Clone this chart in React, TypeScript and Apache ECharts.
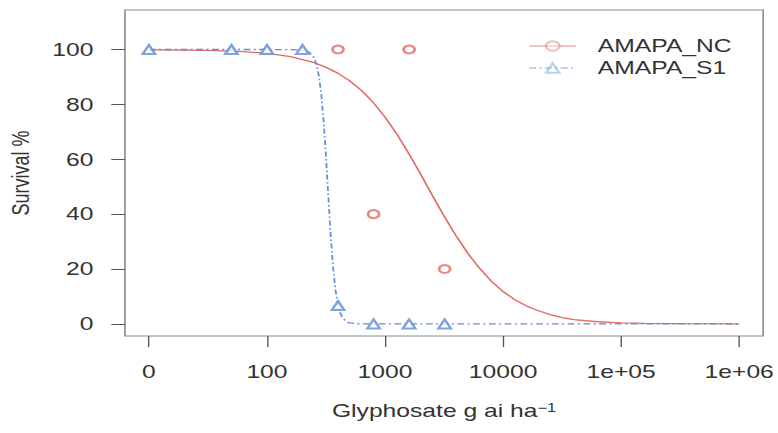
import React, { useEffect, useRef } from "react";
import * as echarts from "echarts";

// ---- data ----
// dose 0 is drawn on the broken-axis position (log10 dose = 1)
const xTickPositions = [1, 2, 3, 4, 5, 6];
const xTickLabels = ["0", "100", "1000", "10000", "1e+05", "1e+06"];
const yTicks = [0, 20, 40, 60, 80, 100];

const ncDoses = [400, 800, 1600, 3200];
const ncSurvival = [100, 40, 100, 20];

const s1Doses = [0, 50, 100, 200, 400, 800, 1600, 3200];
const s1Survival = [100, 100, 100, 100, 6.7, 0, 0, 0];

// fitted curves (x = log10 dose)
const ncCurveLogDose = [1, 1.5, 1.8, 2.0, 2.2, 2.4, 2.5, 2.6, 2.7, 2.8, 2.9, 3.0, 3.1, 3.2, 3.3, 3.4, 3.5, 3.6, 3.7, 3.8, 3.9, 4.0, 4.1, 4.2, 4.3, 4.4, 4.5, 4.6, 4.8, 5.0, 5.2, 5.5, 6.0];
const ncCurveSurvival = [99.9, 99.7, 99.2, 98.6, 97.4, 95.2, 93.5, 91.4, 88.6, 85.1, 80.7, 75.4, 69.2, 62.2, 54.7, 46.9, 39.3, 32.2, 25.8, 20.3, 15.6, 11.8, 8.8, 6.5, 4.8, 3.4, 2.3, 1.6, 0.8, 0.4, 0.2, 0.1, 0];

const s1CurveLogDose = [1, 2, 2.2, 2.3, 2.36, 2.4, 2.42, 2.44, 2.46, 2.48, 2.5, 2.52, 2.54, 2.56, 2.58, 2.6, 2.62, 2.64, 2.67, 2.7, 2.75, 2.8, 6.0];
const s1CurveSurvival = [100, 100, 99.95, 99.8, 99.0, 96.9, 94.5, 90.4, 83.8, 74.0, 61.0, 46.3, 32.1, 20.6, 12.5, 7.3, 4.1, 2.3, 0.96, 0.39, 0.09, 0, 0];

const S = 1.37; // horizontal stretch of the reference
const W = 778 / S;
const H = 433;

const RED = "#E26A66";
const BLUE = "#5E8FD8";
const FONT = "Liberation Sans";

const pos = (d: number) => (d === 0 ? 1 : Math.log10(d));

export default function App() {
  const ref = useRef<HTMLDivElement>(null);
  useEffect(() => {
    if (!ref.current) return;
    const chart = echarts.init(ref.current, undefined, { renderer: "svg" });
    chart.setOption({
      animation: false,
      backgroundColor: "#fff",
      textStyle: { fontFamily: FONT },
      grid: {
        left: 91.2,
        right: W - 763 / S,
        top: 10,
        bottom: H - 336,
        containLabel: false,
        outerBoundsMode: "none",
        show: true,
        borderColor: "#8c8c8c",
        borderWidth: 1.2,
      },
      legend: {
        orient: "vertical",
        left: 528 / S,
        top: 37,
        padding: 0,
        itemWidth: 34,
        itemHeight: 12,
        itemGap: 4,
        textStyle: { fontSize: 18, color: "#333", fontFamily: FONT, padding: [0, 0, 0, 11] },
        data: [
          { name: "AMAPA_NC", itemStyle: { opacity: 0.4 }, lineStyle: { opacity: 0.4 } },
          { name: "AMAPA_S1", itemStyle: { opacity: 0.4 }, lineStyle: { opacity: 0.4 } },
        ],
      },
      xAxis: {
        type: "value",
        min: 0.797,
        max: 6.203,
        axisLine: { show: false, onZero: false },
        splitLine: { show: false },
        axisTick: {
          show: true,
          length: 11,
          customValues: xTickPositions,
          lineStyle: { color: "#555", width: 1 },
        },
        axisLabel: {
          customValues: xTickPositions,
          margin: 27,
          fontSize: 18,
          color: "#333",
          fontFamily: FONT,
          formatter: (v: number) => {
            const i = xTickPositions.findIndex((p) => Math.abs(p - v) < 1e-6);
            return i >= 0 ? xTickLabels[i] : "";
          },
        },
        name: "Glyphosate g ai ha{sup|−1}",
        nameLocation: "middle",
        nameGap: 66,
        nameTextStyle: {
          fontSize: 18,
          color: "#333",
          fontFamily: FONT,
          rich: {
            sup: { fontSize: 12, color: "#333", fontFamily: FONT, verticalAlign: "top", lineHeight: 12 },
          },
        },
      },
      yAxis: {
        type: "value",
        min: -4.4,
        max: 114.4,
        axisLine: { show: false, onZero: false },
        splitLine: { show: false },
        axisTick: {
          show: true,
          length: 10,
          customValues: yTicks,
          lineStyle: { color: "#555", width: 1 },
        },
        axisLabel: {
          customValues: yTicks,
          margin: 23,
          fontSize: 18,
          color: "#333",
          fontFamily: FONT,
        },
        name: "Survival %",
        nameLocation: "middle",
        nameGap: 67,
        nameTextStyle: { fontSize: 18, color: "#333", fontFamily: FONT },
      },
      series: [
        {
          type: "line",
          name: "AMAPA_NC",
          data: ncCurveLogDose.map((x, i) => [x, ncCurveSurvival[i]]),
          showSymbol: false,
          symbol: "emptyCircle",
          symbolSize: 8,
          smooth: false,
          color: RED,
          lineStyle: { color: RED, width: 1.3 },
          itemStyle: { color: RED, borderColor: RED },
          z: 2,
        },
        {
          type: "line",
          name: "AMAPA_S1",
          data: s1CurveLogDose.map((x, i) => [x, s1CurveSurvival[i]]),
          showSymbol: false,
          symbol: "emptyTriangle",
          symbolSize: 9,
          smooth: false,
          color: BLUE,
          lineStyle: { color: BLUE, width: 1.3, type: [5, 2.5, 1.5, 2.5] },
          itemStyle: { color: BLUE, borderColor: BLUE },
          z: 2,
        },
        {
          type: "scatter",
          name: "NC points",
          data: ncDoses.map((d, i) => [pos(d), ncSurvival[i]]),
          symbol: "emptyCircle",
          symbolSize: 8,
          itemStyle: { color: RED, borderColor: RED, borderWidth: 1.1 },
          z: 3,
        },
        {
          type: "scatter",
          name: "S1 points",
          data: s1Doses.map((d, i) => [pos(d), s1Survival[i]]),
          symbol: "emptyTriangle",
          symbolSize: 9,
          itemStyle: { color: BLUE, borderColor: BLUE, borderWidth: 1.1 },
          z: 3,
        },
      ],
    });
    return () => chart.dispose();
  }, []);
  return (
    <div
      style={{
        position: "fixed",
        left: 0,
        top: 0,
        width: 778,
        height: H,
        overflow: "hidden",
        background: "#fff",
      }}
    >
      <div
        ref={ref}
        style={{ width: W, height: H, transform: `scaleX(${S})`, transformOrigin: "0 0" }}
      />
    </div>
  );
}
